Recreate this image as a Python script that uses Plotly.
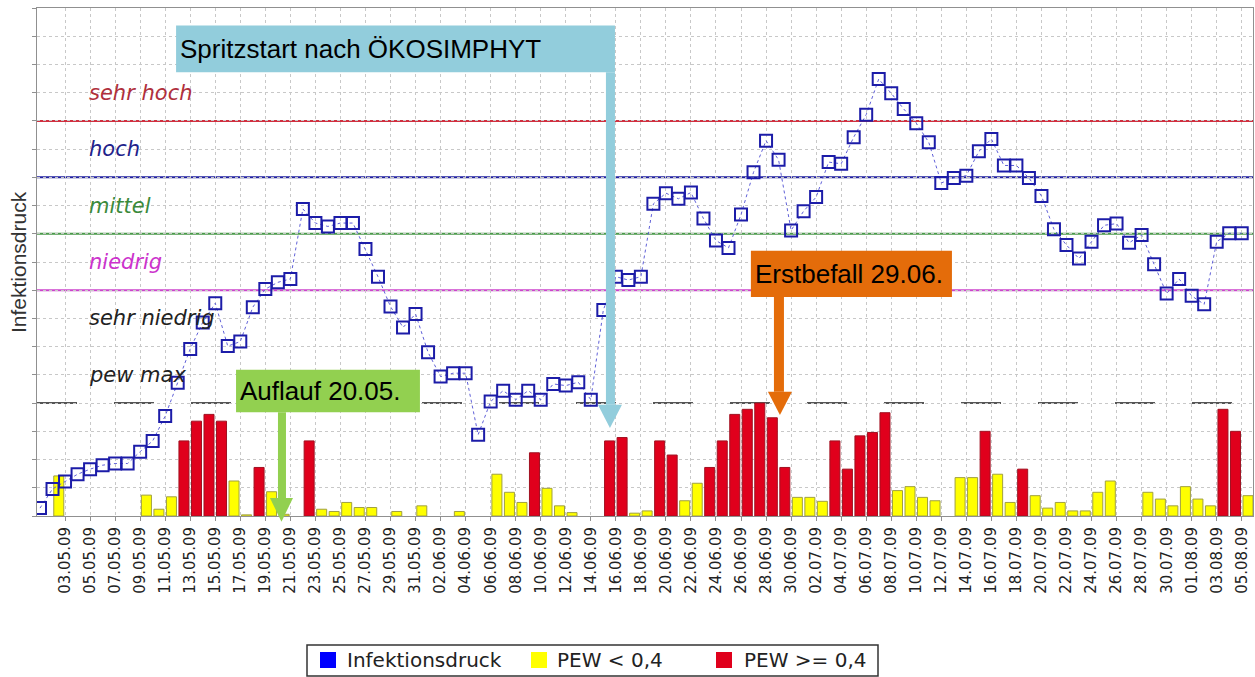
import pandas as pd
import plotly.graph_objects as go

# Tage 01.05.09 - 05.08.09
tage = pd.date_range("2009-05-01", "2009-08-05", freq="D")
tag_labels = tage.strftime("%d.%m.%y").tolist()

# Infektionsdruck (Skala 0..9, 2 = pew max, 4..7 = Stufengrenzen)
infektionsdruck = [
    # Mai
    0.14, 0.48, 0.61, 0.74, 0.83, 0.90, 0.93, 0.93, 1.14, 1.33,
    1.77, 2.36, 2.96, 3.43, 3.77, 3.01, 3.09, 3.70, 4.02, 4.14,
    4.20, 5.44, 5.19, 5.13, 5.19, 5.19, 4.73, 4.24, 3.71, 3.34, 3.58,
    # Juni
    2.90, 2.47, 2.53, 2.53, 1.44, 2.03, 2.22, 2.06, 2.22, 2.06,
    2.34, 2.31, 2.37, 2.06, 3.65, 4.24, 4.18, 4.24, 5.53, 5.72,
    5.62, 5.73, 5.27, 4.88, 4.75, 5.34, 6.09, 6.65, 6.31, 5.06,
    # Juli
    5.40, 5.65, 6.27, 6.24, 6.71, 7.11, 7.74, 7.49, 7.21, 6.96,
    6.62, 5.90, 5.99, 6.03, 6.46, 6.68, 6.21, 6.21, 5.99, 5.67,
    5.08, 4.80, 4.56, 4.86, 5.15, 5.18, 4.84, 4.98, 4.46, 3.94, 4.20,
    # August
    3.90, 3.75, 4.86, 5.01, 5.01,
]

# PEW < 0,4 (gelb)
pew_gelb = [
    None, 0.71, None, None, None, None, None, None, 0.37, 0.12,
    0.34, None, None, None, None, 0.62, 0.02, None, 0.43, 0.03,
    None, None, 0.12, 0.08, 0.24, 0.15, 0.15, None, 0.08, None, 0.18,
    None, None, 0.08, None, None, 0.74, 0.42, 0.24, None, 0.49,
    0.18, 0.06, None, None, None, None, 0.05, 0.09, None, None,
    0.27, 0.58, None, None, None, None, None, None, None, 0.33,
    0.33, 0.26, None, None, None, None, None, 0.45, 0.52, 0.33,
    0.27, None, 0.68, 0.68, None, 0.74, 0.24, None, 0.36, 0.14,
    0.24, 0.09, 0.09, 0.42, 0.62, None, None, 0.42, 0.30, 0.18, 0.52,
    0.30, 0.18, None, None, 0.36,
]

# PEW >= 0,4 (rot)
pew_rot = [
    None, None, None, None, None, None, None, None, None, None,
    None, 1.33, 1.68, 1.80, 1.68, None, None, 0.86, None, None,
    None, 1.33, None, None, None, None, None, None, None, None, None,
    None, None, None, None, None, None, None, None, 1.12, None,
    None, None, None, None, 1.33, 1.39, None, None, 1.33, 1.08,
    None, None, 0.86, 1.33, 1.80, 1.89, 2.00, 1.74, 0.86, None,
    None, None, 1.33, 0.83, 1.42, 1.48, 1.83, None, None, None,
    None, None, None, None, 1.50, None, None, 0.83, None, None,
    None, None, None, None, None, None, None, None, None, None, None,
    None, None, 1.89, 1.50, None,
]

stufen = ["sehr hoch", "hoch", "mittel", "niedrig", "sehr niedrig", "pew max"]
stufen_farben = ["#b0303c", "#22228a", "#3b8a3b", "#cc33cc", "#222222", "#222222"]
grenzen = [7, 6, 5, 4]
grenz_farben = ["#d03040", "#2020a0", "#4a9a4a", "#cc44cc"]

legende = ["Infektionsdruck", "PEW < 0,4", "PEW >= 0,4"]
legende_farben = ["#0000ff", "#ffff00", "#e0001c"]

YMAX = 9
W, H = 1255, 677
ML, MR, MT, MB = 37, 2, 8, 161
tag_idx = list(range(len(tage)))
bar_x = [i + 0.5 for i in tag_idx]

fig = go.Figure()

fig.add_trace(go.Bar(
    x=bar_x, y=pew_gelb, width=0.8, name=legende[1],
    marker=dict(color=legende_farben[1], line=dict(color="#a0a040", width=1)),
))
fig.add_trace(go.Bar(
    x=bar_x, y=pew_rot, width=0.8, name=legende[2],
    marker=dict(color=legende_farben[2], line=dict(color="#a01020", width=1)),
))
fig.add_trace(go.Scatter(
    x=tag_idx, y=infektionsdruck, mode="lines+markers", name=legende[0],
    line=dict(color="#6060d8", width=1, dash="3px,3px"),
    marker=dict(symbol="square-open", size=12, color="#1c1ca8", line=dict(width=2)),
))

# Stufengrenzen
for g, c in zip(grenzen, grenz_farben):
    fig.add_shape(type="line", xref="paper", x0=0, x1=1, y0=g, y1=g,
                  line=dict(color=c, width=2), layer="between")
fig.add_shape(type="line", xref="paper", x0=0, x1=1, y0=2, y1=2,
              line=dict(color="#555555", width=2, dash="40px,37px"), layer="between")

for i, (s, c) in enumerate(zip(stufen, stufen_farben)):
    fig.add_annotation(x=3.76, y=7.5 - i, text="<i>" + s + "</i>", showarrow=False,
                       xanchor="left", yanchor="middle",
                       font=dict(family="DejaVu Sans", size=21, color=c))


def yp(v):
    return v / YMAX


def kasten(text, farbe, x0, x1, y0, y1, sx0, sx1, kx0, kx1, ky, tip_x, tip_y):
    fig.add_shape(type="rect", xref="x", yref="paper", x0=x0, x1=x1, y0=yp(y0), y1=yp(y1),
                  fillcolor=farbe, line=dict(width=0), layer="above")
    fig.add_shape(type="rect", xref="x", yref="paper", x0=sx0, x1=sx1, y0=yp(ky), y1=yp(y0),
                  fillcolor=farbe, line=dict(width=0), layer="above")
    fig.add_shape(type="path", xref="x", yref="paper",
                  path=f"M {kx0} {yp(ky)} L {kx1} {yp(ky)} L {tip_x} {yp(tip_y)} Z",
                  fillcolor=farbe, line=dict(width=0), layer="above")
    fig.add_annotation(x=x0 + 0.15, y=yp((y0 + y1) / 2), yref="paper", text=text,
                       showarrow=False, xanchor="left", yanchor="middle",
                       font=dict(family="Arial, Liberation Sans", size=26, color="black"))


kasten("Spritzstart nach ÖKOSIMPHYT", "#92cddc", 10.87, 45.93, 7.86, 8.69,
       45.21, 45.93, 44.57, 46.49, 1.97, 45.53, 1.56)
kasten("Auflauf 20.05.", "#92d050", 15.66, 30.35, 1.84, 2.59,
       19.01, 19.65, 18.37, 20.21, 0.32, 19.29, -0.10)
kasten("Erstbefall 29.06.", "#e46c0a", 56.79, 72.85, 3.88, 4.70,
       58.63, 59.43, 58.15, 60.07, 2.20, 59.11, 1.79)

fig.add_annotation(xref="paper", yref="paper", x=-0.0156, y=0.5, text="Infektionsdruck",
                   textangle=-90, showarrow=False, xanchor="center", yanchor="middle",
                   font=dict(family="Arial, Liberation Sans", size=21, color="#333333"))


# Legende unter dem Diagramm (Pixel -> paper)
def px(p):
    return (p - ML) / (W - ML - MR)


def py(p):
    return (H - MB - p) / (H - MT - MB)


fig.add_shape(type="rect", xref="paper", yref="paper", x0=px(307), x1=px(878),
              y0=py(645), y1=py(676), line=dict(color="#333333", width=1.5),
              fillcolor="white")
for name, farbe, sx, tx in zip(legende, legende_farben, [320, 531, 716], [345, 555, 742]):
    fig.add_shape(type="rect", xref="paper", yref="paper", x0=px(sx), x1=px(sx + 16),
                  y0=py(652), y1=py(668), fillcolor=farbe, line=dict(width=0))
    fig.add_annotation(xref="paper", yref="paper", x=px(tx), y=py(660), text=name,
                       showarrow=False, xanchor="left", yanchor="middle",
                       font=dict(family="DejaVu Sans", size=20, color="#222222"))

fig.update_layout(
    width=W, height=H,
    margin=dict(l=ML, r=MR, t=MT, b=MB),
    plot_bgcolor="white", paper_bgcolor="white",
    barmode="overlay", showlegend=False,
)
fig.update_xaxes(
    range=[-0.24, 96.9], automargin=False,
    tickvals=tag_idx[2::2], ticktext=tag_labels[2::2], tickangle=-90,
    tickfont=dict(family="DejaVu Sans", size=15, color="#222222"),
    showgrid=True, gridcolor="#c8c8c8", griddash="3px,3px", gridwidth=1,
    showline=True, linecolor="#909090", mirror=True,
    ticks="outside", ticklen=4, tickcolor="#909090", zeroline=False,
)
fig.update_yaxes(
    range=[0, YMAX], dtick=0.5, showticklabels=False, automargin=False,
    showgrid=True, gridcolor="#c8c8c8", griddash="3px,3px", gridwidth=1,
    showline=True, linecolor="#909090", mirror=True,
    ticks="outside", ticklen=4, tickcolor="#909090", zeroline=False,
)

fig.write_html("out.html", config={"displayModeBar": False},
               post_script="document.body.style.margin='0';document.body.style.overflow='hidden';")
